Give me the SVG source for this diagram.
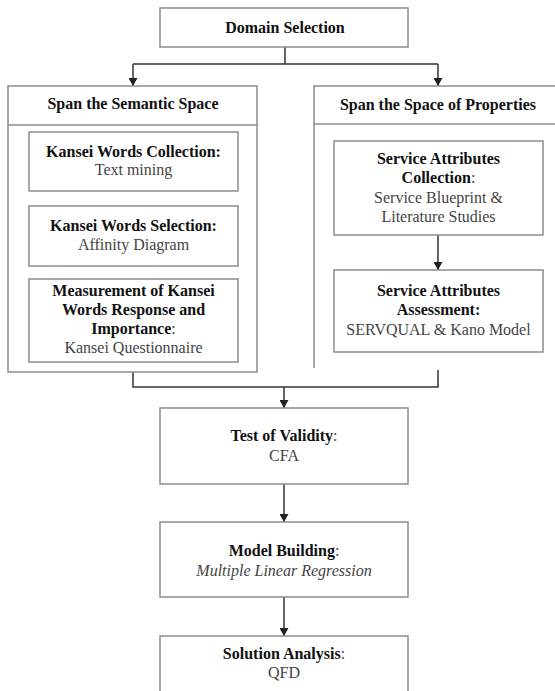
<svg xmlns="http://www.w3.org/2000/svg" width="555" height="691" viewBox="0 0 555 691">
<style>
.box{fill:#fff;stroke:#8c8c8c;stroke-width:1.5}
.con{fill:none;stroke:#333;stroke-width:1.5}
text{font-family:"Liberation Serif","Times New Roman",serif;font-size:16px;text-anchor:middle}
.b{font-weight:bold;fill:#111}
.r{fill:#444}
.i{fill:#444;font-style:italic}
</style>
<defs>
<marker id="ah" viewBox="0 0 8 9" refX="8" refY="4.5" markerWidth="8" markerHeight="9" markerUnits="userSpaceOnUse" orient="auto">
<path d="M0,0 L8,4.5 L0,9 Z" fill="#222"/>
</marker>
</defs>
<rect width="555" height="691" fill="#fff"/>
<g id="connectors">
<path class="con" d="M285,47 V64 M133,64 H438"/>
<path class="con" d="M133,64 V86" marker-end="url(#ah)"/>
<path class="con" d="M438,64 V86" marker-end="url(#ah)"/>
<path class="con" d="M134,191 V206" marker-end="url(#ah)"/>
<path class="con" d="M134,266 V279" marker-end="url(#ah)"/>
<path class="con" d="M438,235 V270" marker-end="url(#ah)"/>
<path class="con" d="M133,372 V387 H438 V370"/>
<path class="con" d="M284,387 V408" marker-end="url(#ah)"/>
<path class="con" d="M284,484 V522" marker-end="url(#ah)"/>
<path class="con" d="M284,597 V636" marker-end="url(#ah)"/>
</g>
<g id="domain">
<rect class="box" x="160" y="8" width="248" height="39"/>
<text class="b" x="285" y="33">Domain Selection</text>
</g>
<g id="semantic">
<rect class="box" x="8" y="86" width="249" height="286"/>
<line x1="8" y1="125" x2="257" y2="125" stroke="#8c8c8c" stroke-width="1.5"/>
<text class="b" x="133" y="109">Span the Semantic Space</text>
</g>
<g id="properties">
<path d="M560,86 H314 V368" fill="none" stroke="#8c8c8c" stroke-width="1.5"/>
<line x1="314" y1="124" x2="560" y2="124" stroke="#8c8c8c" stroke-width="1.5"/>
<text class="b" x="438" y="110">Span the Space of Properties</text>
</g>
<g id="kw-collection">
<rect class="box" x="29" y="132" width="209" height="59"/>
<text class="b" x="133.5" y="157">Kansei Words Collection:</text>
<text class="r" x="133.5" y="175">Text mining</text>
</g>
<g id="kw-selection">
<rect class="box" x="29" y="206" width="209" height="60"/>
<text class="b" x="133.5" y="231">Kansei Words Selection:</text>
<text class="r" x="133.5" y="250">Affinity Diagram</text>
</g>
<g id="kw-measurement">
<rect class="box" x="29" y="279" width="209" height="83"/>
<text class="b" x="133.5" y="296">Measurement of Kansei</text>
<text class="b" x="133.5" y="315">Words Response and</text>
<text x="133.5" y="334"><tspan class="b">Importance</tspan><tspan class="r">:</tspan></text>
<text class="r" x="133.5" y="353">Kansei Questionnaire</text>
</g>
<g id="sa-collection">
<rect class="box" x="334" y="141" width="209" height="94"/>
<text class="b" x="438.5" y="164">Service Attributes</text>
<text x="438.5" y="183"><tspan class="b">Collection</tspan><tspan class="r">:</tspan></text>
<text class="r" x="438.5" y="203">Service Blueprint &amp;</text>
<text class="r" x="438.5" y="222">Literature Studies</text>
</g>
<g id="sa-assessment">
<rect class="box" x="334" y="270" width="209" height="82"/>
<text class="b" x="438.5" y="296">Service Attributes</text>
<text class="b" x="438.5" y="315">Assessment:</text>
<text class="r" x="438.5" y="335">SERVQUAL &amp; Kano Model</text>
</g>
<g id="validity">
<rect class="box" x="160" y="408" width="248" height="76"/>
<text x="284" y="441"><tspan class="b">Test of Validity</tspan><tspan class="r">:</tspan></text>
<text class="r" x="284" y="461">CFA</text>
</g>
<g id="model">
<rect class="box" x="160" y="522" width="248" height="75"/>
<text x="284" y="556"><tspan class="b">Model Building</tspan><tspan class="r">:</tspan></text>
<text class="i" x="284" y="576">Multiple Linear Regression</text>
</g>
<g id="solution">
<rect class="box" x="160" y="636" width="248" height="70"/>
<text x="284" y="659"><tspan class="b">Solution Analysis</tspan><tspan class="r">:</tspan></text>
<text class="r" x="284" y="678">QFD</text>
</g>
</svg>
